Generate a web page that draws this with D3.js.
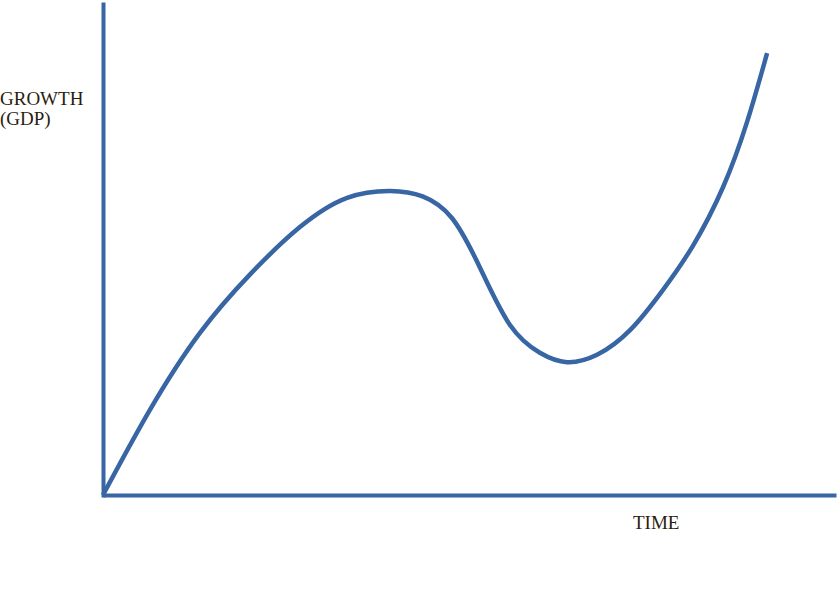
<!DOCTYPE html>
<html>
<head>
<meta charset="utf-8">
<script src="https://cdn.jsdelivr.net/npm/d3@7"></script>
<style>
  html, body { margin: 0; padding: 0; background: #fff; }
  svg { display: block; }
</style>
</head>
<body>
<div id="chart"></div>
<script>
// curve (time, growth)
const timeValues = [0, 6.4, 13.2, 20.1, 26.9, 33.3, 39.2, 43.6, 47.6, 51.4, 55.5, 59.6, 63.3, 67.4, 71.9, 76.4, 80.5, 84.6, 87.9, 90.6];
const growthValues = [0, 17.3, 32.9, 44.9, 54.5, 60.4, 61.8, 60.7, 56.3, 46.3, 34.6, 28.9, 27.0, 28.5, 33.5, 41.7, 50.7, 62.6, 76.0, 89.8];
const yLabelLines = ["GROWTH", "(GDP)"];
const xLabel = "TIME";

const width = 839, height = 596;
const blue = "#3865a3";
const ink = "#2b1d0e";

const svg = d3.select("#chart")
    .append("svg")
    .attr("width", width)
    .attr("height", height);

const x = d3.scaleLinear().domain([0, 100]).range([103, 836]);
const y = d3.scaleLinear().domain([0, 100]).range([495, 3]);

// axes: plain lines, no ticks
const xAxis = svg.append("g")
    .attr("transform", `translate(0,${y(0)})`)
    .call(d3.axisBottom(x).tickValues([]).tickSizeOuter(0));
xAxis.select(".domain")
    .attr("stroke", blue)
    .attr("stroke-width", 4);

const yAxis = svg.append("g")
    .attr("transform", `translate(${x(0)},0)`)
    .call(d3.axisLeft(y.copy().range([495, 4])).tickValues([]).tickSizeOuter(0));
yAxis.select(".domain")
    .attr("stroke", blue)
    .attr("stroke-width", 4)
    .attr("stroke-linecap", "square");

// growth curve
const data = timeValues.map((t, i) => ({ t: t, g: growthValues[i] }));
const line = d3.line()
    .x(d => x(d.t))
    .y(d => y(d.g))
    .curve(d3.curveNatural);

svg.append("path")
    .datum(data)
    .attr("d", line)
    .attr("fill", "none")
    .attr("stroke", blue)
    .attr("stroke-width", 4.5);

// labels
const font = "'Liberation Serif', 'Times New Roman', serif";
svg.append("text")
    .attr("x", 0)
    .attr("y", 105)
    .attr("font-family", font)
    .attr("font-size", 19)
    .attr("fill", ink)
    .selectAll("tspan")
    .data(yLabelLines)
    .enter()
    .append("tspan")
    .attr("x", 0)
    .attr("dy", (d, i) => i === 0 ? 0 : 20)
    .text(d => d);

svg.append("text")
    .attr("x", 633)
    .attr("y", 529)
    .attr("font-family", font)
    .attr("font-size", 19)
    .attr("fill", ink)
    .text(xLabel);
</script>
</body>
</html>
